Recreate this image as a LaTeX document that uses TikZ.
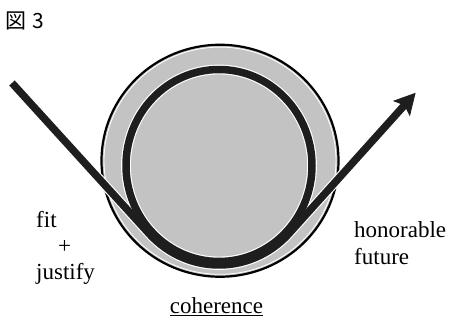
\documentclass[tikz,border=0pt]{standalone}
\usepackage{fontspec}
\setmainfont{Liberation Serif}
\newfontfamily\cjk{Noto Sans CJK JP}
\usetikzlibrary{arrows.meta,calc}
\definecolor{ringgray}{HTML}{C3C3C3}
\definecolor{inkblack}{HTML}{1E1E1E}
\tikzset{
  ring/.style   ={fill=ringgray, draw=black, line width=2.2pt},
  halo/.style   ={draw=white, line width=9.8pt},
  strand/.style ={draw=inkblack, line width=7.5pt},
  flow/.style   ={strand, -{Stealth[length=21pt,width=22pt,inset=4pt]}},
  lbl/.style    ={font=\fontsize{23}{27}\selectfont, inner sep=0pt, anchor=base west},
}

\begin{document}
\begin{tikzpicture}[x=1pt,y=1pt]
  \useasboundingbox (0,0) rectangle (450,321);

  \coordinate (rc) at (220,160.25);
  \coordinate (lc) at (219,155.5);
  \coordinate (in) at (12,238);
  \coordinate (out) at (415.7,228.3);
  \coordinate (t1) at ($(lc)+(224:96pt and 99.5pt)$);

  % ring
  \path[ring] (rc) ellipse[x radius=118.5pt, y radius=116pt];
  \draw[white, line width=0.8pt] (rc) ellipse[x radius=116pt, y radius=113.6pt];

  % loop and passing line
  \path[halo] (lc) ellipse[x radius=93pt, y radius=96pt];
  \path[halo] (in) -- (t1) arc[start angle=224, end angle=316, x radius=96pt, y radius=99.5pt] -- (out);
  \path[strand] (lc) ellipse[x radius=93pt, y radius=96pt];
  \path[flow] (in) -- (t1) arc[start angle=224, end angle=316, x radius=96pt, y radius=99.5pt] -- (out);

  % labels
  \node[anchor=base west, inner sep=0pt, font=\cjk\fontsize{21}{24}\selectfont] (fig) at (5.5,292.5) {図\hspace{6pt}3};
  \node[lbl] (fit) at (36,93) {fit};
  \node[lbl] (plus) at (58,67) {+};
  \node[lbl] (just) at (36,41) {justify};
  \node[lbl] (hon) at (354,83) {honorable};
  \node[lbl] (fut) at (354,56) {future};
  \node[lbl, anchor=base] (coh) at (216.5,7) {\underline{coherence}};
\end{tikzpicture}
\end{document}
